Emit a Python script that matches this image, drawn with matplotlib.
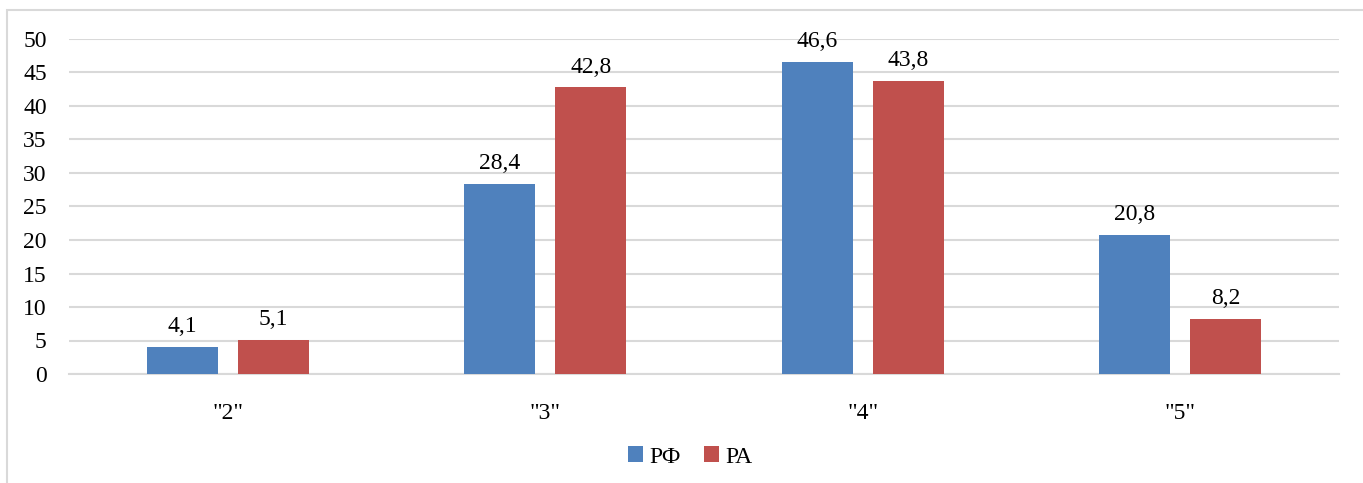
import matplotlib.pyplot as plt
import numpy as np
from matplotlib.patches import Rectangle

categories = ['"2"', '"3"', '"4"', '"5"']
rf_values = [4.1, 28.4, 46.6, 20.8]
ra_values = [5.1, 42.8, 43.8, 8.2]
series_names = ["РФ", "РА"]

BLUE = "#4f81bd"
RED = "#c0504d"
GRID = "#d9d9d9"
FS = 17

plt.rcParams["font.family"] = ["Liberation Serif", "DejaVu Serif"]

W, H = 1363, 483
fig = plt.figure(figsize=(W / 100, H / 100), dpi=100)
ax = fig.add_axes([69 / W, 1 - 374 / H, (1339 - 69) / W, (374 - 39) / H])

# outer chart frame (Excel style)
fig.patches.append(Rectangle((7 / W, -0.1), 1.2, 1 - 10 / H + 0.1,
                             transform=fig.transFigure, fill=False,
                             edgecolor=GRID, lw=1.5))

x = np.arange(len(categories))
width = 0.224
offset = 0.143
b1 = ax.bar(x - offset, rf_values, width, color=BLUE, label=series_names[0], zorder=3)
b2 = ax.bar(x + offset, ra_values, width, color=RED, label=series_names[1], zorder=3)

for bars in (b1, b2):
    for rect in bars:
        v = rect.get_height()
        ax.annotate(f"{v:.1f}".replace(".", ","),
                    xy=(rect.get_x() + rect.get_width() / 2, v),
                    xytext=(0, 7), textcoords="offset points",
                    ha="center", va="bottom", fontsize=FS)

ax.set_xlim(-0.5, len(categories) - 0.5)
ax.set_ylim(0, 50)
ax.set_yticks(range(0, 51, 5))
ax.set_xticks(x)
ax.set_xticklabels(categories)
ax.tick_params(axis="both", length=0, labelsize=FS)
ax.tick_params(axis="y", pad=16)
ax.tick_params(axis="x", pad=21)
ax.yaxis.grid(True, color=GRID, lw=1.5, zorder=0)
for s in ("top", "right", "left"):
    ax.spines[s].set_visible(False)
ax.spines["bottom"].set_color(GRID)
ax.spines["bottom"].set_linewidth(1.5)

fig.legend(handles=[b1, b2], loc="center", bbox_to_anchor=(690 / W, 1 - 457 / H),
           ncol=2, frameon=False, fontsize=FS, handlelength=0.65, handleheight=0.65,
           handletextpad=0.25, columnspacing=1.0)

fig.savefig("out.png", dpi=100)
